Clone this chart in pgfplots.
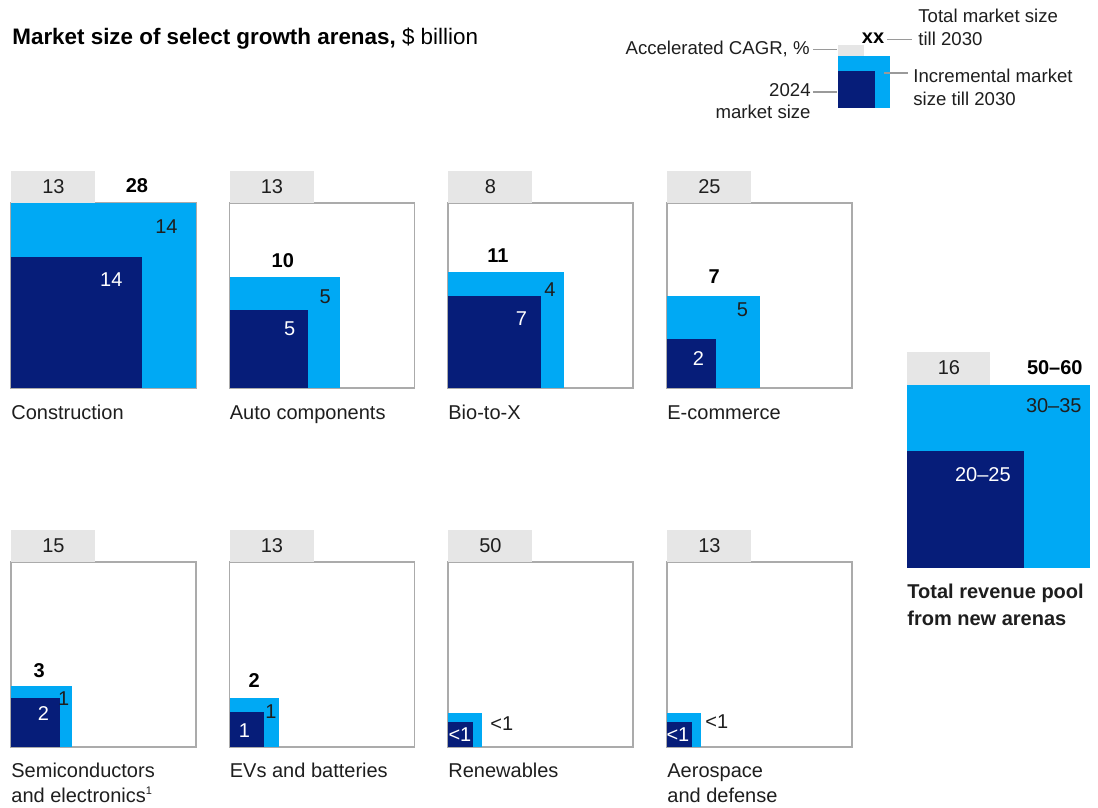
\documentclass[border=0pt]{standalone}
\usepackage{pgfplots}
\pgfplotsset{compat=1.18}
\usepackage{pgfplotstable}
\usepackage{fontspec}
\setmainfont{Liberation Sans}

\definecolor{navy}{HTML}{061D79}
\definecolor{sky}{HTML}{00A9F4}
\definecolor{tabgray}{HTML}{E6E6E6}
\definecolor{framegray}{HTML}{ABABAB}
\definecolor{leadgray}{HTML}{9A9A9A}
\definecolor{ink}{HTML}{1E1E1E}

% corners of a unit square; each block is scaled so that its area equals the value
\pgfplotstableread{
cx cy
0 0
1 0
1 1
0 1
}\unitsq

\newcommand\block[2]{%
  \addplot[fill=#2, draw=none] table[x expr={\thisrow{cx}*sqrt(#1)}, y expr={\thisrow{cy}*sqrt(#1)}] {\unitsq};}
% side lengths of the outer (2030) and inner (2024) squares
\newcommand\sides[2]{\pgfmathsetmacro\S{sqrt(#1)}\pgfmathsetmacro\D{sqrt(#2)}\pgfmathsetmacro\H{sqrt(#1)/2}}

\newcommand\txt{\fontsize{10}{13}\selectfont}
\newcommand\keytxt{\fontsize{9.3}{12}\selectfont}

\pgfplotsset{
  arena/.style={anchor=south west, scale only axis, width=92.5pt, height=92.5pt,
    xmin=0, xmax=5.2915, ymin=0, ymax=5.2915,
    axis line style={framegray, line width=0.7pt},
    xtick=\empty, ytick=\empty, clip=false},
}
\tikzset{
  cagrtab/.style={fill=tabgray, anchor=south west, minimum width=42pt, minimum height=16pt, inner sep=0pt, font=\txt, text=ink},
  vtot/.style={anchor=base, font=\txt\bfseries, text=black, inner sep=0pt},
  vinc/.style={anchor=north east, font=\txt, text=ink, inner sep=0pt},
  vbase/.style={anchor=north east, font=\txt, text=white, inner sep=0pt},
  arenaname/.style={anchor=base west, font=\txt, text=ink, inner sep=0pt},
  note/.style={font=\keytxt, text=ink, inner sep=0pt},
  lead/.style={leadgray, line width=0.6pt},
}

\begin{document}
\begin{tikzpicture}
\useasboundingbox (0pt,0pt) rectangle (549pt,-404pt);

% title
\node[anchor=base west, inner sep=0pt, text=black] at (6pt,-22.5pt)
  {\fontsize{11.2}{13}\selectfont\textbf{Market size of select growth arenas,} \$ billion};

% key
\begin{axis}[anchor=south west, at={(419pt,-54pt)}, scale only axis, width=26pt, height=26pt,
  xmin=0, xmax=1, ymin=0, ymax=1, hide axis, clip=false]
\block{1}{sky}
\block{0.51}{navy}
\node[cagrtab, minimum width=13pt, minimum height=5.5pt] at (rel axis cs:0,1) {};
\node[vtot, yshift=6.5pt] at (rel axis cs:0.673,1) {xx};
\end{axis}
\draw[lead] (406.5pt,-24.75pt) -- (418.5pt,-24.75pt);
\node[note, anchor=base east] at (405pt,-27.5pt) {Accelerated CAGR, \%};
\draw[lead] (443.5pt,-19.75pt) -- (456pt,-19.75pt);
\node[note, anchor=base west] at (459pt,-11.5pt) {Total market size};
\node[note, anchor=base west] at (459pt,-23pt) {till 2030};
\draw[lead] (442pt,-36.5pt) -- (454pt,-36.5pt);
\node[note, anchor=base west] at (456.5pt,-41.5pt) {Incremental market};
\node[note, anchor=base west] at (456.5pt,-52.5pt) {size till 2030};
\draw[lead] (406.5pt,-46pt) -- (418.5pt,-46pt);
\node[note, anchor=base east] at (405.5pt,-48.5pt) {2024};
\node[note, anchor=base east] at (405.5pt,-59.5pt) {market size};

% Construction
\sides{28}{14}
\begin{axis}[arena, at={(5.5pt,-194pt)}]
\block{28}{sky}
\block{14}{navy}
\node[cagrtab] at (rel axis cs:0,1) {13};
\node[vtot, xshift=16.75pt, yshift=5.5pt] at (axis cs:\H,\S) {28};
\node[vinc, xshift=-9pt, yshift=-8pt] at (axis cs:\S,\S) {14};
\node[vbase, xshift=-9.5pt, yshift=-7.5pt] at (axis cs:\D,\D) {14};
\node[arenaname, yshift=-15.5pt] at (rel axis cs:0,0) {Construction};
\end{axis}

% Auto components
\sides{10}{5}
\begin{axis}[arena, at={(114.75pt,-194pt)}]
\block{10}{sky}
\block{5}{navy}
\node[cagrtab] at (rel axis cs:0,1) {13};
\node[vtot, xshift=-1pt, yshift=5pt] at (axis cs:\H,\S) {10};
\node[vinc, xshift=-4.5pt, yshift=-6pt] at (axis cs:\S,\S) {5};
\node[vbase, xshift=-6pt, yshift=-6pt] at (axis cs:\D,\D) {5};
\node[arenaname, yshift=-15.5pt] at (rel axis cs:0,0) {Auto components};
\end{axis}

% Bio-to-X
\sides{11}{7}
\begin{axis}[arena, at={(224pt,-194pt)}]
\block{11}{sky}
\block{7}{navy}
\node[cagrtab] at (rel axis cs:0,1) {8};
\node[vtot, xshift=-4pt, yshift=5pt] at (axis cs:\H,\S) {11};
\node[vinc, xshift=-4pt, yshift=-5pt] at (axis cs:\S,\S) {4};
\node[vbase, xshift=-6.5pt, yshift=-8pt] at (axis cs:\D,\D) {7};
\node[arenaname, yshift=-15.5pt] at (rel axis cs:0,0) {Bio-to-X};
\end{axis}

% E-commerce
\sides{7}{2}
\begin{axis}[arena, at={(333.5pt,-194pt)}]
\block{7}{sky}
\block{2}{navy}
\node[cagrtab] at (rel axis cs:0,1) {25};
\node[vtot, xshift=0.5pt, yshift=6pt] at (axis cs:\H,\S) {7};
\node[vinc, xshift=-5.5pt, yshift=-3.5pt] at (axis cs:\S,\S) {5};
\node[vbase, xshift=-6pt, yshift=-6.5pt] at (axis cs:\D,\D) {2};
\node[arenaname, yshift=-15.5pt] at (rel axis cs:0,0) {E-commerce};
\end{axis}

% Semiconductors and electronics
\sides{3}{2}
\begin{axis}[arena, at={(5.5pt,-373.5pt)}]
\block{3}{sky}
\block{2}{navy}
\node[cagrtab] at (rel axis cs:0,1) {15};
\node[vtot, xshift=-1pt, yshift=4.5pt] at (axis cs:\H,\S) {3};
\node[vinc, xshift=-1pt, yshift=-2.5pt] at (axis cs:\S,\S) {1};
\node[vbase, xshift=-5.5pt, yshift=-4.5pt] at (axis cs:\D,\D) {2};
\node[arenaname, yshift=-15pt] at (rel axis cs:0,0) {Semiconductors};
\node[arenaname, yshift=-27.75pt] at (rel axis cs:0,0) {and electronics\raisebox{0.75ex}{\fontsize{5.5}{6}\selectfont 1}};
\end{axis}

% EVs and batteries
\sides{2}{1}
\begin{axis}[arena, at={(114.75pt,-373.5pt)}]
\block{2}{sky}
\block{1}{navy}
\node[cagrtab] at (rel axis cs:0,1) {13};
\node[vtot, yshift=5pt] at (axis cs:\H,\S) {2};
\node[vinc, xshift=-1pt, yshift=-3.5pt] at (axis cs:\S,\S) {1};
\node[vbase, xshift=-7pt, yshift=-5.5pt] at (axis cs:\D,\D) {1};
\node[arenaname, yshift=-15pt] at (rel axis cs:0,0) {EVs and batteries};
\end{axis}

% Renewables
\sides{0.95}{0.5}
\begin{axis}[arena, at={(224pt,-373.5pt)}]
\block{0.95}{sky}
\block{0.5}{navy}
\node[cagrtab] at (rel axis cs:0,1) {50};
\node[vinc, anchor=north west, xshift=4pt, yshift=-1.5pt] at (axis cs:\S,\S) {<1};
\node[vbase, xshift=-0.5pt, yshift=-2.5pt] at (axis cs:\D,\D) {<1};
\node[arenaname, yshift=-15pt] at (rel axis cs:0,0) {Renewables};
\end{axis}

% Aerospace and defense
\sides{0.95}{0.5}
\begin{axis}[arena, at={(333.5pt,-373.5pt)}]
\block{0.95}{sky}
\block{0.5}{navy}
\node[cagrtab] at (rel axis cs:0,1) {13};
\node[vinc, anchor=north west, xshift=2pt, yshift=-0.5pt] at (axis cs:\S,\S) {<1};
\node[vbase, xshift=-1pt, yshift=-2.5pt] at (axis cs:\D,\D) {<1};
\node[arenaname, yshift=-15pt] at (rel axis cs:0,0) {Aerospace};
\node[arenaname, yshift=-27.75pt] at (rel axis cs:0,0) {and defense};
\end{axis}

% Total revenue pool (own scale: 55 = midpoint of 50-60, 22.5 = midpoint of 20-25)
\sides{55}{22.5}
\begin{axis}[anchor=south west, at={(453.5pt,-284pt)}, scale only axis, width=91.5pt, height=91.5pt,
  xmin=0, xmax=7.4162, ymin=0, ymax=7.4162, hide axis, clip=false]
\block{55}{sky}
\block{22.5}{navy}
\node[cagrtab, minimum width=41.5pt, minimum height=16.5pt] at (rel axis cs:0,1) {16};
\node[vtot, anchor=base east, xshift=-3.5pt, yshift=5pt] at (axis cs:\S,\S) {50--60};
\node[vinc, xshift=-4pt, yshift=-6.5pt] at (axis cs:\S,\S) {30--35};
\node[vbase, xshift=-6.5pt, yshift=-8pt] at (axis cs:\D,\D) {20--25};
\node[arenaname, font=\txt\bfseries, yshift=-15pt] at (rel axis cs:0,0) {Total revenue pool};
\node[arenaname, font=\txt\bfseries, yshift=-28.5pt] at (rel axis cs:0,0) {from new arenas};
\end{axis}
\end{tikzpicture}
\end{document}
